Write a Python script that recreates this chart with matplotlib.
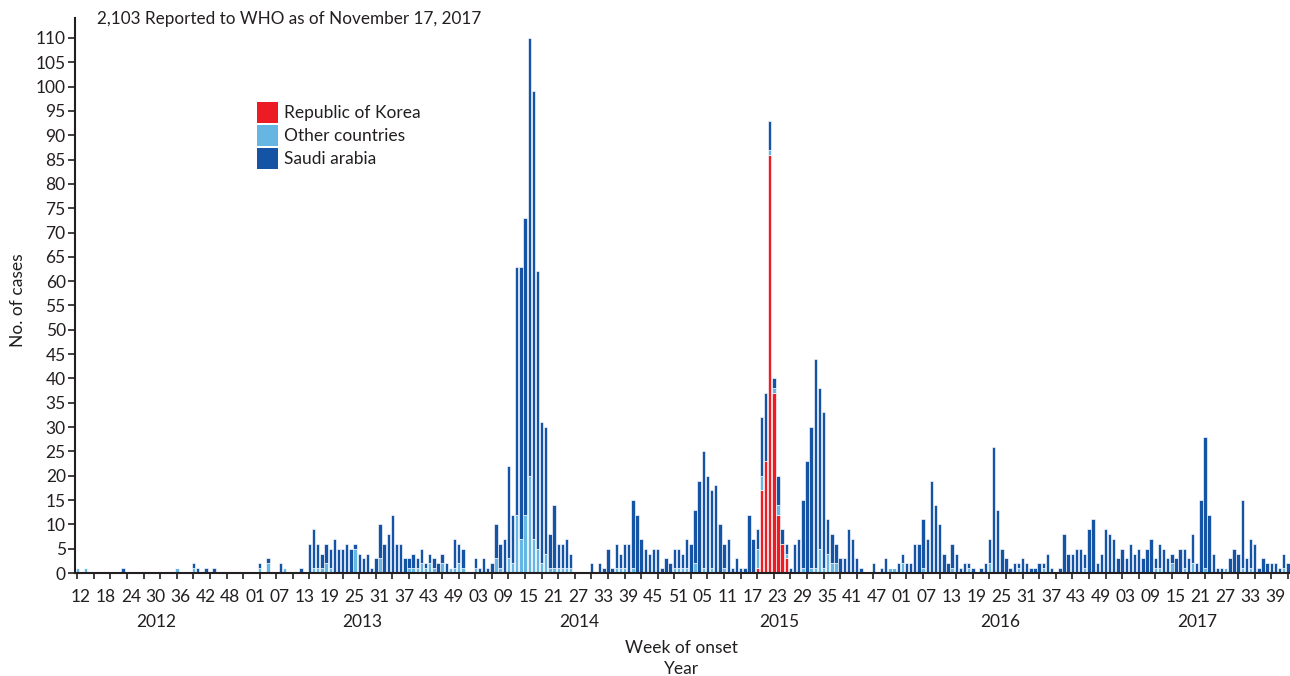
import numpy as np
import matplotlib
matplotlib.use("Agg")
import matplotlib.pyplot as plt
from matplotlib.transforms import blended_transform_factory
from matplotlib.patches import Rectangle

plt.rcParams['font.family'] = ['Lato', 'DejaVu Sans']

# Weekly MERS-CoV cases by week of onset, one entry per week
saudi = [
    0, 0, 0, 0, 0, 0, 0, 0, 0, 0,
    0, 1, 0, 0, 0, 0, 0, 0, 0, 0,
    0, 0, 0, 0, 0, 0, 0, 0, 1, 1,
    0, 1, 0, 1, 0, 0, 0, 0, 0, 0,
    0, 0, 0, 0, 1, 0, 1, 0, 0, 2,
    0, 0, 0, 0, 1, 0, 6, 8, 5, 3,
    4, 4, 7, 5, 5, 6, 5, 1, 4, 3,
    4, 1, 3, 7, 6, 8, 12, 6, 6, 3,
    2, 3, 2, 3, 1, 2, 2, 2, 2, 2,
    0, 6, 4, 4, 0, 0, 2, 1, 3, 1,
    2, 7, 5, 7, 19, 10, 51, 56, 61, 90,
    92, 57, 29, 26, 7, 13, 5, 5, 6, 3,
    0, 0, 0, 0, 2, 0, 2, 1, 5, 1,
    5, 3, 5, 6, 14, 12, 7, 5, 4, 5,
    5, 1, 3, 2, 4, 4, 3, 6, 6, 11,
    19, 24, 20, 16, 18, 10, 5, 7, 1, 3,
    1, 1, 12, 7, 4, 12, 14, 6, 2, 6,
    3, 2, 1, 6, 7, 14, 23, 29, 43, 33,
    32, 7, 6, 4, 3, 3, 9, 7, 3, 1,
    0, 0, 2, 0, 1, 3, 0, 0, 2, 2,
    2, 2, 6, 6, 10, 7, 19, 14, 10, 4,
    2, 5, 4, 1, 2, 1, 1, 0, 1, 2,
    5, 26, 13, 5, 3, 1, 2, 1, 3, 2,
    1, 1, 2, 1, 4, 1, 0, 1, 8, 4,
    4, 5, 5, 3, 9, 11, 2, 4, 9, 8,
    7, 3, 5, 3, 6, 4, 5, 3, 5, 7,
    2, 5, 5, 3, 2, 3, 5, 4, 3, 6,
    2, 15, 27, 12, 4, 1, 1, 0, 3, 5,
    4, 14, 3, 6, 6, 1, 3, 2, 2, 2,
    1, 3, 2,
]

other = [
    1, 0, 1, 0, 0, 0, 0, 0, 0, 0,
    0, 0, 0, 0, 0, 0, 0, 0, 0, 0,
    0, 0, 0, 0, 1, 0, 0, 0, 1, 0,
    0, 0, 0, 0, 0, 0, 0, 0, 0, 0,
    0, 0, 0, 0, 1, 0, 2, 0, 0, 0,
    1, 0, 0, 0, 0, 0, 0, 1, 1, 1,
    2, 1, 0, 0, 0, 0, 0, 5, 0, 0,
    0, 0, 0, 3, 0, 0, 0, 0, 0, 0,
    1, 1, 1, 2, 1, 2, 1, 0, 2, 0,
    1, 1, 2, 1, 0, 0, 1, 0, 0, 0,
    0, 3, 1, 0, 3, 2, 12, 7, 12, 20,
    7, 5, 2, 4, 1, 1, 1, 1, 1, 1,
    0, 0, 0, 0, 0, 0, 0, 0, 0, 0,
    1, 1, 1, 0, 1, 0, 0, 0, 0, 0,
    0, 0, 0, 0, 1, 1, 1, 1, 0, 2,
    0, 1, 0, 1, 0, 0, 1, 0, 0, 0,
    0, 0, 0, 0, 4, 3, 0, 1, 1, 2,
    0, 1, 0, 0, 0, 1, 0, 1, 1, 5,
    1, 4, 2, 2, 0, 0, 0, 0, 0, 0,
    0, 0, 0, 0, 0, 0, 1, 1, 0, 2,
    0, 0, 0, 0, 1, 0, 0, 0, 0, 0,
    0, 1, 0, 0, 0, 1, 0, 0, 0, 0,
    2, 0, 0, 0, 0, 0, 0, 1, 0, 0,
    0, 0, 0, 1, 0, 0, 0, 0, 0, 0,
    0, 0, 0, 1, 0, 0, 0, 0, 0, 0,
    0, 0, 0, 0, 0, 0, 0, 0, 0, 0,
    1, 1, 0, 0, 2, 0, 0, 1, 0, 2,
    0, 0, 1, 0, 0, 0, 0, 1, 0, 0,
    0, 1, 0, 1, 0, 0, 0, 0, 0, 0,
    0, 1, 0,
]

korea_outbreak = [1, 17, 23, 86, 37, 12, 6, 3]
korea_first_week = 164
korea = [0] * len(saudi)
korea[korea_first_week:korea_first_week + len(korea_outbreak)] = korea_outbreak

week_labels = (
    ['12', '18', '24', '30', '36', '42', '48'] +
    ['01', '07', '13', '19', '25', '31', '37', '43', '49'] +
    ['03', '09', '15', '21', '27', '33', '39', '45', '51'] +
    ['05', '11', '17', '23', '29', '35', '41', '47'] +
    ['01', '07', '13', '19', '25', '31', '37', '43', '49'] +
    ['03', '09', '15', '21', '27', '33', '39']
)
years = ['2012', '2013', '2014', '2015', '2016', '2017']
year_centers = [19.0, 68.7, 121.0, 169.2, 222.6, 270.1]

series_names = ['Republic of Korea', 'Other countries', 'Saudi arabia']

DARK = '#1553a5'
LIGHT = '#66b6e4'
RED = '#ed1c24'
INK = '#231f20'
FS = 12.5

W, H = 1290, 676
fig = plt.figure(figsize=(W / 100, H / 100), dpi=100)
ax = fig.add_axes([74.5 / W, (H - 573) / H, 1 - 74.5 / W, (573 - 18) / H])

x = np.arange(len(saudi))
korea_a = np.array(korea)
other_a = np.array(other)
saudi_a = np.array(saudi)

bar_kw = dict(width=0.82, edgecolor='white', linewidth=0.45)
ax.bar(x, korea_a, color=RED, **bar_kw)
ax.bar(x, other_a, bottom=korea_a, color=LIGHT, **bar_kw)
ax.bar(x, saudi_a, bottom=korea_a + other_a, color=DARK, **bar_kw)

ax.set_xlim(-0.675, 292.5)
ax.set_ylim(0, 114.1)

for side in ('top', 'right'):
    ax.spines[side].set_visible(False)
for side in ('left', 'bottom'):
    ax.spines[side].set_linewidth(1.5)
    ax.spines[side].set_color(INK)

ax.set_yticks(np.arange(0, 111, 5))
ax.tick_params(axis='y', direction='out', length=4.8, width=1.2, colors=INK,
               labelsize=FS, pad=1.5)

ax.set_xticks(np.arange(0, 293, 4))
ax.set_xticklabels([])
ax.set_xticks(0.9 + 6 * np.arange(len(week_labels)), minor=True)
ax.set_xticklabels(week_labels, minor=True)
ax.tick_params(axis='x', which='major', direction='out', length=4.2, width=1.2, colors=INK)
ax.tick_params(axis='x', which='minor', length=0, pad=11.5, labelsize=FS, labelcolor=INK)

trans = blended_transform_factory(ax.transData, fig.transFigure)
for yr, xc in zip(years, year_centers):
    ax.text(xc, 1 - 622 / H, yr, transform=trans, ha='center', va='center',
            fontsize=FS, color=INK)

fig.text(681 / W, 1 - 648 / H, 'Week of onset', ha='center', va='center',
         fontsize=FS, color=INK)
fig.text(681 / W, 1 - 669 / H, 'Year', ha='center', va='center',
         fontsize=FS, color=INK)
fig.text(18 / W, 1 - 300 / H, 'No. of cases', rotation=90, ha='center', va='center',
         fontsize=FS, color=INK)
fig.text(97 / W, 1 - 19 / H, '2,103 Reported to WHO as of November 17, 2017',
         ha='left', va='center', fontsize=12.3, color=INK)

# Legend: colour squares with labels, stacked top to bottom
sq = 21.0
row_pitch = 23.2
for i, (name, col) in enumerate(zip(series_names, [RED, LIGHT, DARK])):
    top = 101.7 + i * row_pitch
    fig.patches.append(Rectangle((256.7 / W, 1 - (top + sq) / H), sq / W, sq / H,
                                 transform=fig.transFigure, facecolor=col,
                                 edgecolor='none', figure=fig))
    fig.text(284 / W, 1 - (top + sq / 2 + 0.5) / H, name, ha='left', va='center',
             fontsize=FS, color=INK)

fig.savefig('out.png', dpi=100)
